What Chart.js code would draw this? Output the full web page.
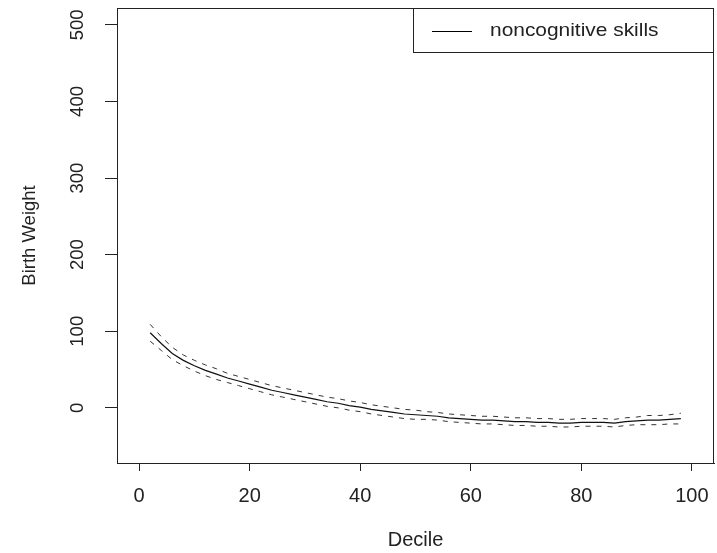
<!DOCTYPE html>
<html>
<head>
<meta charset="utf-8">
<script src="https://cdn.jsdelivr.net/npm/chart.js@4/dist/chart.umd.min.js"></script>
<style>
html,body{margin:0;padding:0;background:#fff;}
#wrap{width:717px;height:553px;}
</style>
</head>
<body>
<div id="wrap"><canvas id="c" width="717" height="553"></canvas></div>
<script>
const deciles = [2,4,6,8,10,12,14,16,18,20,22,24,26,28,30,32,34,36,38,40,42,44,46,48,50,52,54,56,58,60,62,64,66,68,70,72,74,76,78,80,82,84,86,88,90,92,94,96,98];
const estimate = [98,84,71,62,55,49,44,39,35,31,27,23,20,17,14,11,8,6,3,1,-2,-4,-6,-8,-9,-10,-11,-13,-14,-15,-16,-16,-17,-18,-18,-19,-19,-20,-20,-19,-19,-19,-20,-18,-17,-16,-16,-15,-14];
const upperCI = [109,93,79,69,62,56,51,45,41,37,33,29,26,23,20,17,14,12,9,7,4,2,0,-2,-3,-5,-6,-8,-9,-10,-11,-11,-12,-13,-13,-14,-14,-15,-15,-14,-14,-14,-15,-13,-12,-10,-10,-9,-7];
const lowerCI = [87,75,63,55,48,42,37,33,29,25,21,17,14,11,8,5,2,0,-3,-5,-8,-10,-12,-14,-15,-15,-16,-18,-19,-20,-21,-21,-22,-23,-23,-24,-24,-25,-25,-24,-24,-24,-25,-23,-22,-22,-22,-21,-21];
const xTicks = [0,20,40,60,80,100];
const yTicks = [0,100,200,300,400,500];
const seriesLabel = 'noncognitive skills';

const FONT = 'Liberation Sans, Arial, sans-serif';
const TXT = '#222';

const toPts = arr => deciles.map((d,i)=>({x:d,y:arr[i]}));

const rPlugin = {
  id:'rstyle',
  afterDraw(chart){
    const ctx = chart.ctx, a = chart.chartArea;
    ctx.save();
    // plot box
    ctx.strokeStyle = '#222'; ctx.lineWidth = 1;
    ctx.strokeRect(a.left+0.5, a.top+0.5, a.right-a.left-1, a.bottom-a.top);
    // rotated y tick labels
    const ys = chart.scales.y;
    ctx.fillStyle = TXT;
    ctx.font = '18.5px ' + FONT;
    ctx.textAlign = 'center'; ctx.textBaseline = 'middle';
    ys.ticks.forEach(t=>{
      const py = ys.getPixelForValue(t.value);
      ctx.save();
      ctx.translate(78, py);
      ctx.rotate(-Math.PI/2);
      ctx.fillText(String(t.value), 0, 0);
      ctx.restore();
    });
    // legend box (top-right inside plot)
    const lx = 413, ly = a.top, lw = a.right - 413, lh = 44;
    ctx.strokeStyle = '#222';
    ctx.strokeRect(lx+0.5, ly+0.5, lw-1, lh);
    ctx.strokeStyle = '#000';
    ctx.beginPath(); ctx.moveTo(432, ly+23.5); ctx.lineTo(472, ly+23.5); ctx.stroke();
    ctx.save();
    ctx.translate(490, ly+23);
    ctx.scale(1.13, 1);
    ctx.textAlign = 'left';
    ctx.fillText(chart.data.datasets[0].label, 0, 0);
    ctx.restore();
    ctx.restore();
  }
};

new Chart(document.getElementById('c'), {
  type:'line',
  data:{
    datasets:[
      {label:seriesLabel, data:toPts(estimate), borderColor:'#111', borderWidth:1.2, pointRadius:0, tension:0, fill:false},
      {label:'upper', data:toPts(upperCI), borderColor:'#333', borderWidth:1, borderDash:[5,6], pointRadius:0, tension:0, fill:false},
      {label:'lower', data:toPts(lowerCI), borderColor:'#333', borderWidth:1, borderDash:[5,6], pointRadius:0, tension:0, fill:false}
    ]
  },
  options:{
    responsive:false,
    animation:false,
    devicePixelRatio:1,
    layout:{padding:{top:8,right:3,left:0,bottom:0}},
    plugins:{legend:{display:false}, tooltip:{enabled:false}},
    scales:{
      x:{
        type:'linear', min:-4, max:104,
        afterBuildTicks(s){ s.ticks = xTicks.map(v=>({value:v})); },
        afterFit(s){ s.height = 90; s.paddingLeft = 0; s.paddingRight = 0; },
        grid:{drawOnChartArea:false, drawTicks:true, tickLength:8, color:'#222'},
        border:{display:true, color:'#222'},
        ticks:{font:{family:FONT,size:20}, color:TXT, padding:13, maxRotation:0, autoSkip:false},
        title:{display:true, text:'Decile', font:{family:FONT,size:20}, color:TXT, padding:{top:0,bottom:1}}
      },
      y:{
        type:'linear', min:-72, max:522,
        afterBuildTicks(s){ s.ticks = yTicks.map(v=>({value:v})); },
        afterFit(s){ s.width = 117; s.paddingTop = 0; s.paddingBottom = 0; },
        grid:{drawOnChartArea:false, drawTicks:true, tickLength:12, color:'#222'},
        border:{display:true, color:'#222'},
        ticks:{display:false},
        title:{display:true, text:'Birth Weight', font:{family:FONT,size:18.5}, color:TXT, padding:{top:19,bottom:0}}
      }
    }
  },
  plugins:[rPlugin]
});
</script>
</body>
</html>
